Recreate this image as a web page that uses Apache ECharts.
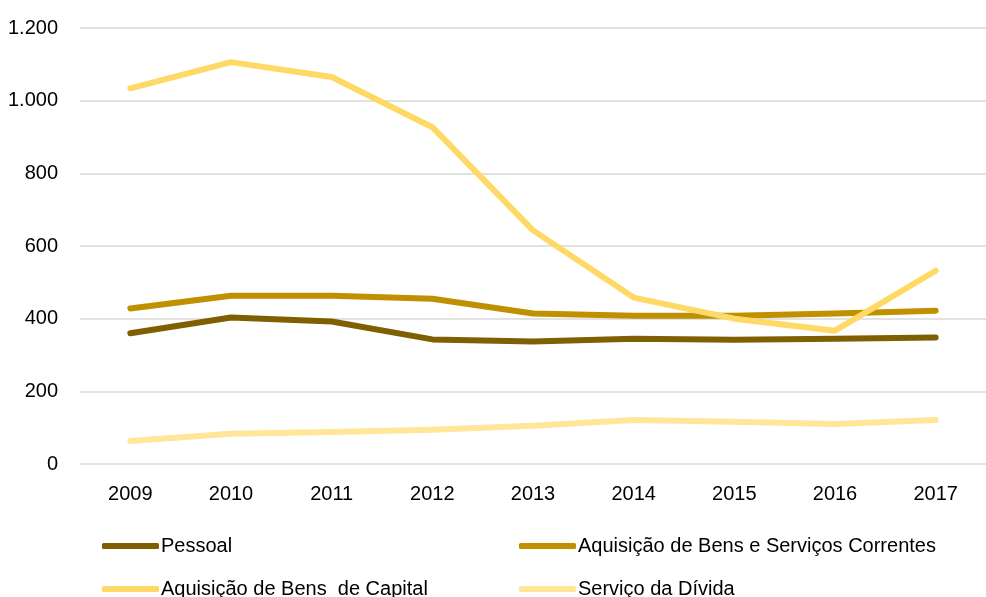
<!DOCTYPE html>
<html>
<head>
<meta charset="utf-8">
<script src="https://cdn.jsdelivr.net/npm/echarts@6/dist/echarts.min.js"></script>
<style>
  html, body { margin: 0; padding: 0; background: #fff; }
  #chart { width: 986px; height: 597px; }
</style>
</head>
<body>
<div id="chart"></div>
<script>
var years = ['2009', '2010', '2011', '2012', '2013', '2014', '2015', '2016', '2017']
var pessoal = [360, 403, 392, 343, 337, 345, 342, 345, 348]
var bensServicos = [428, 463, 463, 455, 414, 408, 408, 414, 422]
var bensCapital = [1034, 1106, 1065, 927, 643, 458, 400, 367, 532]
var servicoDivida = [63, 83, 88, 94, 105, 121, 116, 110, 121]
var yTicks = [0, 200, 400, 600, 800, 1000, 1200]

var seriesNames = ['Pessoal', 'Aquisição de Bens e Serviços Correntes', 'Aquisição de Bens  de Capital', 'Serviço da Dívida']
var seriesColors = ['#7f6000', '#bf9000', '#ffd966', '#ffe699']

var font = '"Liberation Sans", Arial, sans-serif'

function lineSeries(i, data) {
  return {
    name: seriesNames[i],
    type: 'line',
    data: data,
    showSymbol: false,
    symbol: 'none',
    lineStyle: { color: seriesColors[i], width: 6, cap: 'round', join: 'round' },
    itemStyle: { color: seriesColors[i] }
  }
}

// one legend per item, laid out in two columns
function legendItem(name, left, top) {
  return {
    left: left,
    top: top,
    itemWidth: 57,
    itemHeight: 6,
    icon: 'roundRect',
    textStyle: { fontFamily: font, fontSize: 20, color: '#000', padding: [0, 0, 0, -3] },
    data: [name]
  }
}

var chart = echarts.init(document.getElementById('chart'))
chart.setOption({
  backgroundColor: '#fff',
  animation: false,
  grid: { left: 80, right: -14, top: 28, bottom: 133 },
  legend: [
    legendItem(seriesNames[0], 97, 531),
    legendItem(seriesNames[1], 514, 531),
    legendItem(seriesNames[2], 97, 574),
    legendItem(seriesNames[3], 514, 574)
  ],
  xAxis: {
    type: 'category',
    data: years,
    boundaryGap: true,
    axisLine: { show: false },
    axisTick: { show: false },
    axisLabel: { fontFamily: font, fontSize: 20, color: '#000', margin: 20 }
  },
  yAxis: {
    type: 'value',
    min: yTicks[0],
    max: yTicks[yTicks.length - 1],
    interval: 200,
    axisLine: { show: false },
    axisTick: { show: false },
    splitLine: { lineStyle: { color: '#d9d9d9', width: 1.5 } },
    axisLabel: {
      fontFamily: font,
      fontSize: 20,
      color: '#000',
      margin: 22,
      formatter: function(v) {
        return String(v).replace(/\B(?=(\d{3})+(?!\d))/g, '.')
      }
    }
  },
  series: [
    lineSeries(0, pessoal),
    lineSeries(1, bensServicos),
    lineSeries(2, bensCapital),
    lineSeries(3, servicoDivida)
  ]
})
</script>
</body>
</html>
